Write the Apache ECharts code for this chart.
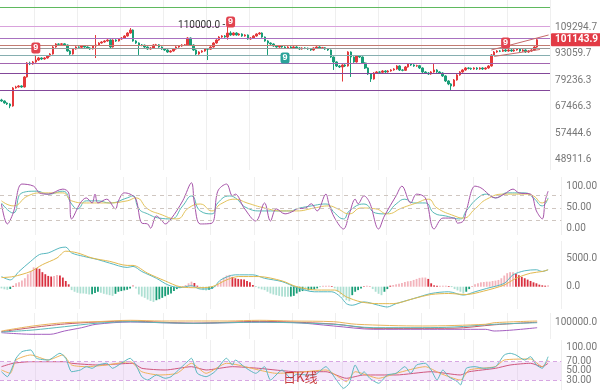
<!DOCTYPE html>
<html><head><meta charset="utf-8">
<script src="https://cdn.jsdelivr.net/npm/echarts@6/dist/echarts.min.js"></script>
<style>html,body{margin:0;padding:0;background:#fff}#c{width:600px;height:391px}</style>
</head><body><div id="c"></div>
<script>
// ---- data: daily candles [open, close, low, high]
const candles = [
[70300,69870,69500,70800],[69870,69030,68700,70100],[69030,68610,68200,69300],[68610,67790,66900,68900],[67790,75590,67500,76000],
[75590,76050,75300,76600],[76050,76510,75800,76900],[76510,76050,75700,76800],[76050,80790,75800,81200],[80790,87920,80500,88400],
[87920,87390,86800,88600],[87390,88460,87000,89000],[88460,89530,88000,92300],[89530,90620,89100,91200],[90620,90070,89500,91000],
[90070,90620,89700,91100],[90620,91720,90300,92200],[91720,92840,91300,93300],[92840,96850,92500,97400],[96850,98620,96400,99100],
[98620,98400,97900,99000],[98400,98700,98000,99200],[98700,98030,97600,99100],[98030,94540,94100,98300],[94540,92840,92300,95000],
[92840,95690,92500,96100],[95690,96850,95300,97300],[96850,96700,96200,97200],[96700,97440,96300,97900],[97440,96850,96400,97800],
[96850,96270,95800,97200],[96270,95690,95200,96700],[95690,97440,95400,97900],[97440,98030,90600,104100],[98030,99220,97700,99700],
[99220,99820,98800,100300],[99820,100430,99400,100900],[100430,101030,100000,101500],[101030,96850,96300,101400],[96850,101030,96500,101500],
[101030,100430,99900,101500],[100430,101650,100100,102100],[101650,102260,101200,102800],[102260,103510,101900,104000],[103510,105400,103100,105900],
[105400,107330,105000,108600],[107330,100430,100000,107700],[100430,99220,98700,100900],[99220,98030,92300,99600],[98030,97900,97300,98600],
[97900,96850,96300,98300],[96850,95690,95200,97200],[95690,96270,95300,96800],[96270,98030,95900,98500],[98030,98100,97500,98700],
[98100,96850,96400,98500],[96850,95690,95200,97200],[95690,95110,94600,96100],[95110,93970,93500,95500],[93970,94540,93600,95000],
[94540,95690,94200,96100],[95690,96850,95300,97300],[96850,97440,96400,97900],[97440,98030,97000,98500],[98030,98100,97500,98600],
[98100,102260,97800,102800],[102260,98030,97600,102600],[98030,95110,94600,98400],[95110,92840,92300,95500],[92840,93970,92400,94400],
[93970,94540,93500,95000],[94540,95690,94100,96100],[95690,95600,89500,96100],[95600,96850,95200,97300],[96850,99220,96500,99700],
[99220,101030,98800,101500],[101030,102880,100600,103400],[102880,103510,102400,104000],[103510,102880,102400,104100],[102880,105400,101200,110000],
[105400,104140,103600,106500],[104140,105400,103700,105900],[105400,104140,103700,105900],[104140,104770,103700,105300],[104770,103510,103000,105200],
[103510,104140,103100,104600],[104140,101650,101200,104500],[101650,102260,101200,102800],[102260,103510,101900,104000],[103510,104770,103100,105200],
[104770,105400,104300,106000],[105400,102880,102400,105800],[102880,100430,100000,103200],[100430,99220,92300,100900],[99220,98620,98100,99600],
[98620,97440,97000,99000],[97440,96850,96400,97900],[96850,97440,96400,97900],[97440,96850,96400,97900],[96850,96270,95800,97300],
[96270,96850,95800,97300],[96850,96270,95800,97300],[96270,96850,95800,97300],[96850,96270,95800,97300],[96270,95690,95200,96700],
[95690,96270,95300,96700],[96270,96100,95600,96700],[96100,95690,95200,96500],[95690,95110,94600,96100],[95110,96270,94700,96700],
[96270,96850,95900,97300],[96850,96270,95800,97300],[96270,96400,95800,96900],[96400,95690,95200,96800],[95690,95110,94600,96100],
[95110,91170,90700,95400],[91170,88460,84300,91500],[88460,86340,85800,88800],[86340,85820,85300,86800],[85820,86870,78600,87300],
[86870,86340,85800,87300],[86340,93970,86000,94400],[93970,91170,80800,94300],[91170,88460,88000,91500],[88460,91720,88100,92200],
[91720,91170,90600,92100],[91170,87920,87400,91500],[87920,85300,84800,88300],[85300,82270,81800,85600],[82270,79820,78400,82600],
[79820,82760,79500,83200],[82760,83270,82300,83700],[83270,83100,82600,83700],[83100,83770,82700,84200],[83770,83270,82800,84200],
[83270,83770,82900,84200],[83770,84280,83400,84700],[84280,84790,83900,85200],[84790,86340,84400,86800],[86340,84280,83800,86700],
[84280,84100,83600,84700],[84100,85820,83800,86300],[85820,87390,85500,87800],[87390,86870,86400,87800],[86870,86340,85900,87300],
[86340,86500,85900,87000],[86500,85300,84800,86900],[85300,83270,82800,85600],[83270,82760,82300,83700],[82760,82270,81800,83200],
[82270,83270,81900,83700],[83270,84280,82900,87900],[84280,83270,82800,84700],[83270,82760,82300,83700],[82760,81280,80800,83100],
[81280,78860,78400,81600],[78860,77440,76900,79200],[77440,76510,74700,77800],[76510,79340,76200,79800],[79340,81770,79000,82200],
[81770,83270,81400,83700],[83270,84280,82900,84700],[84280,85300,83900,85700],[85300,85100,84600,85700],[85100,84790,84300,85500],
[84790,85300,84400,85700],[85300,84790,84300,85700],[84790,85300,84400,85700],[85300,84790,84300,85700],[84790,85300,84400,85700],
[85300,86340,84900,86800],[86340,92280,86000,92800],[92280,93970,91900,94500],[93970,94540,93500,95000],[94540,94400,93900,95000],
[94400,95110,94000,95600],[95110,94540,94000,95600],[94540,95110,94100,95600],[95110,94540,94000,95600],[94540,95110,94100,95600],
[95110,95690,94700,96100],[95690,94540,94000,96100],[94540,95110,94100,95600],[95110,93970,93500,95500],[93970,94540,93500,95000],
[94540,95110,94100,95600],[95110,96850,94700,97300],[96850,101143.9,96400,101600]
];
const slotCount = 192;
const priceLabels = ['48911.6','57444.6','67466.3','79236.3','93059.7','109294.7'];
const levelPrices = [123300,109500,102100,97600,96100,91900,87700,82600,74400];
const lastPrice = 101143.9;
const peakIndex = 79, peakPrice = 110000;
const tdUp = [[12,96270],[80,112650],[176,99220]];
const tdDown = [[99,90620]];
const channelUpper = [[171,95110],[191,104140]];
const channelLower = [[172,91500],[188,95400]];

const kdjJ = [[0,59.5],[2,12],[4,38],[7,107],[11,102],[13,86],[16,83],[21,95],[23,86],[24,24],[27,62],[29,74],[31,62],[32,83],[33,62],[36,71],[39,48],[40,67],[42,86],[44,83],[46,71],[48,14],[50,12],[51,2],[53,31],[55,19],[56,12],[58,24],[62,67],[65,110],[66,62],[68,12],[72,14],[74,90],[77,107],[79,79],[80,83],[83,50],[87,19],[90,62],[92,19],[94,48],[97,36],[100,43],[101,48],[104,50],[106,60],[108,43],[111,83],[112,60],[114,26],[117,0],[119,36],[121,71],[122,60],[124,79],[126,62],[129,0],[131,31],[135,79],[137,102],[140,62],[142,83],[145,74],[148,0],[151,26],[155,26],[156,14],[158,19],[159,43],[162,102],[164,98],[169,74],[172,83],[175,95],[177,86],[181,83],[183,43],[185,24],[186,67],[187,90]];
const kdjK = [[0,62],[4,38],[7,86],[12,90],[16,83],[21,90],[24,59.5],[26,48],[29,67],[33,67],[37,62],[43,74],[45,79],[47,48],[50,36],[54,26],[58,24],[62,55],[65,78.6],[68,43],[72,36],[74,62],[78,78.6],[80,74],[84,50],[89,43],[94,43],[99,43],[101,48],[106,55],[111,59.5],[114,38],[117,24],[119,43],[124,59.5],[128,38],[131,36],[135,59.5],[138,71],[141,62],[145,62],[148,38],[152,31],[157,24],[159,43],[163,74],[166,83],[169,74],[173,86],[179,86],[182,74],[185,55],[187,74]];
const kdjD = [[0,67],[4,55],[9,78.6],[14,86],[21,86],[24,67],[29,62],[36,62],[43,67],[46,74],[50,48],[54,36],[60,24],[64,50],[68,59.5],[72,43],[75,59.5],[80,71],[84,62],[90,50],[96,43],[101,43],[107,50],[112,55],[115,48],[119,36],[123,50],[128,48],[132,36],[137,50],[142,62],[146,71],[149,50],[155,31],[158,26],[162,48],[166,71],[172,83],[179,83],[182,78.6],[185,62],[187,71]];
const kdjLevels = [20,50,80];

const macdHist = [-300,-450,-550,-400,150,595,770,1070,1490,2200,2800,3400,3280,3150,2560,2200,1900,1790,1900,2080,1960,1610,1010,420,-600,-890,-1070,-1190,-1190,-1250,-1370,-1310,-1130,-890,-1070,-1250,-1370,-1490,-1610,-1250,-890,-770,-650,-540,-300,300,-300,-1370,-1730,-1960,-2260,-2500,-2680,-2380,-2200,-1960,-1670,-1430,-1190,-770,-420,-180,60,300,600,890,650,180,-300,-600,-650,-540,-420,-60,540,1070,1610,1960,2080,1730,1490,1370,1310,1250,1010,770,300,-60,-300,-480,-600,-890,-1190,-1370,-1490,-1610,-1730,-1790,-1790,-1730,-1610,-1190,-890,-770,-770,-650,-600,-480,-300,-60,180,180,180,120,-300,-890,-1370,-1900,-2380,-2560,-1490,-890,-600,-300,60,180,60,-420,-890,-1250,-1490,-890,-420,180,300,420,540,650,830,950,1010,1190,1370,1550,1610,1610,1370,600,240,180,180,180,180,120,-60,-420,-650,-890,-1190,-890,-420,60,420,600,770,830,890,890,1010,1070,1190,1490,1960,2380,2560,2560,2260,2020,1730,1490,1250,1010,770,600,360,240,180,240];
const macdDif = [[0,1786],[3,1197],[6,2679],[10,4465],[13,5662],[16,5947],[20,6840],[22,6965],[24,5947],[28,5358],[33,4769],[37,4161],[43,3393],[45,3572],[48,2679],[53,1482],[57,304],[61,-179],[65,179],[68,-411],[72,-304],[75,1197],[80,2090],[86,2090],[90,1482],[96,893],[101,-150],[107,-893],[113,-893],[116,-1786],[118,-2983],[120,-3268],[124,-2679],[129,-3268],[132,-3572],[135,-2983],[141,-2090],[147,-1197],[153,-893],[158,-1482],[162,-893],[166,-304],[172,589],[175,2090],[179,2804],[183,2983],[185,2679],[187,2983]];
const macdDea = [[0,1607],[4,1786],[10,2679],[14,3876],[19,5054],[22,6251],[26,5947],[31,5054],[37,4465],[43,3751],[45,3751],[50,2375],[56,1018],[61,0],[67,-179],[72,0],[77,1197],[81,1786],[88,1786],[96,1018],[101,0],[108,-589],[114,-589],[118,-1786],[123,-2679],[129,-2983],[134,-2983],[141,-2090],[147,-1375],[153,-1197],[159,-1375],[165,-768],[172,304],[176,1482],[181,2375],[185,2679],[187,2983]];

const maOrange = [[0,77500],[11,90000],[22,98250],[33,100750],[45,104250],[56,102500],[67,102500],[79,102500],[90,104250],[101,102500],[116,100750],[124,94250],[147,90000],[169,94250],[172,98250],[187,102500]];
const maTeal = [[0,75000],[11,80000],[22,88250],[33,96750],[45,100750],[56,98250],[67,96750],[79,98250],[90,99500],[101,98250],[116,94250],[130,85750],[147,85750],[158,87500],[172,94250],[187,98250]];
const maPurple = [[0,73250],[11,69250],[17,69250],[22,77500],[28,85750],[33,94250],[45,100000],[56,98250],[67,96750],[79,98250],[90,99500],[101,99000],[116,90000],[130,81750],[147,81750],[169,81750],[172,77500],[187,85750]];
const maRed = [[0,76000],[22,95000],[45,102000],[67,97000],[90,101500],[116,95000],[130,84000],[158,84500],[172,93000],[187,99500]];

const rsi6 = [[0,48.4],[2,37.7],[5,77.2],[7,91.3],[10,95],[12,77.2],[16,73.5],[20,87.9],[22,77.2],[24,48.4],[27,52.1],[29,59.2],[31,55.7],[33,62.8],[36,66.5],[38,55.7],[41,66.5],[44,77.2],[46,62.8],[48,37.7],[50,30.6],[53,41.4],[56,34.3],[58,37.7],[63,66.5],[65,77.2],[67,45],[70,37.7],[73,48.4],[77,77.2],[79,62.8],[80,73.5],[83,59.2],[87,45],[90,59.2],[92,30.6],[96,52.1],[99,34.3],[101,43],[105,41.4],[107,41.4],[111,59.2],[113,45],[115,27],[117,12.8],[119,23.6],[121,62.8],[123,41.4],[124,48.4],[126,34.3],[129,23.6],[132,41.4],[135,45],[138,59.2],[140,45],[142,62.8],[145,66.5],[147,52.1],[149,30.6],[151,52.1],[153,37.7],[156,27],[157,19.9],[159,55.7],[162,59.2],[165,55.7],[169,59.2],[172,84.3],[174,87.9],[176,84.3],[179,73.5],[181,80.6],[183,62.8],[185,55.7],[187,80.6]];
const rsi12 = [[0,52.1],[3,45],[5,73.5],[10,84.3],[16,73.5],[21,84.3],[24,62.8],[29,59.2],[36,62.8],[44,69.9],[48,48.4],[54,41.4],[60,45],[65,66.5],[70,45],[77,66.5],[81,62.8],[88,52.1],[94,45],[101,46.7],[111,52.1],[116,34.3],[118,27],[121,48.4],[129,34.3],[135,45],[145,59.2],[150,45],[157,30.6],[160,52.1],[169,59.2],[172,73.5],[181,75.7],[185,59.2],[187,73.5]];
const rsi24 = [[0,59.2],[4,66.5],[10,69.9],[16,69.9],[22,69.9],[24,66.5],[33,62.8],[45,66.5],[48,55.7],[56,52.1],[65,59.2],[70,52.1],[79,59.2],[88,55.7],[101,48.4],[111,48.4],[118,34.3],[124,41.4],[135,41.4],[147,48.4],[157,41.4],[160,48.4],[169,55.7],[174,62.8],[181,66.5],[185,59.2],[187,66.5]];
const rsiBand = [30,70];
const rsiTicksA = [30,70,100];
const rsiTicksB = [50];

// ---- styles
const UP = '#e4393c', DOWN = '#1a9e78';
const levelColors = ['#5fb95e','#d9a2dc','#a871c0','#c27b72','#9a9a9a','#86aeb0','#a265b0','#83479a','#83479a'];
const labelStyle = {color:'#777', fontSize:10, fontFamily:'Roboto, sans-serif', margin:5, hideOverlap:false, showMinLabel:true, showMaxLabel:true};

const slots = Array.from({length: slotCount}, (_, k) => String(k));
const lgA = Math.log(parseFloat(priceLabels[0]));
const lgStep = (Math.log(parseFloat(priceLabels[5])) - lgA) / 5;
const mainMin = 46033, mainMax = 128680;

const grids = [
  {left:0, right:35, top:0, height:170},
  {left:0, right:35, top:177, height:58},
  {left:0, right:35, top:241, height:68},
  {left:0, right:35, top:313, height:26},
  {left:0, right:35, top:340, height:50}
];
const xAxes = grids.map((g, k) => ({
  type:'category', gridIndex:k, data:slots, boundaryGap:true,
  axisLine:{show:false}, axisTick:{show:false}, axisLabel:{show:false},
  splitLine:{show:true, interval:(idx) => (idx - 12) % 15 === 0, lineStyle:{color:'#efefef', width:1}}
}));
const hideAxis = {axisLine:{show:false}, axisTick:{show:false}, splitLine:{show:false}};
const yAxes = [
  Object.assign({type:'log', gridIndex:0, min:mainMin, max:mainMax, position:'right', axisLabel:{show:false}}, hideAxis),
  Object.assign({type:'value', gridIndex:0, position:'right',
    min:(Math.log(mainMin) - lgA) / lgStep, max:(Math.log(mainMax) - lgA) / lgStep,
    axisLabel:Object.assign({customValues:[0,1,2,3,4,5], formatter:(v) => priceLabels[Math.round(v)]}, labelStyle)}, hideAxis),
  Object.assign({type:'value', gridIndex:1, position:'right', min:-14.3, max:123.8,
    axisLabel:Object.assign({customValues:[0,50,100], formatter:(v) => v.toFixed(2)}, labelStyle)}, hideAxis),
  Object.assign({type:'value', gridIndex:2, position:'right', min:-3926, max:8046,
    axisLabel:Object.assign({customValues:[0,5000], formatter:(v) => v.toFixed(1)}, labelStyle)}, hideAxis),
  Object.assign({type:'value', gridIndex:3, position:'right', min:57500, max:122500,
    axisLabel:Object.assign({customValues:[100000], formatter:(v) => v.toFixed(1)}, labelStyle)}, hideAxis),
  Object.assign({type:'value', gridIndex:4, position:'right', min:9.2, max:116.4,
    axisLabel:Object.assign({customValues:rsiTicksA, formatter:(v) => v.toFixed(2)}, labelStyle)}, hideAxis),
  Object.assign({type:'value', gridIndex:4, position:'right', offset:0, min:9.2, max:116.4,
    axisLabel:Object.assign({customValues:rsiTicksB, formatter:(v) => v.toFixed(2)}, labelStyle)}, hideAxis)
];

function lineS(data, xi, yi, color, smooth, extra) {
  return Object.assign({type:'line', xAxisIndex:xi, yAxisIndex:yi, data:data, symbol:'none',
    smooth:smooth, lineStyle:{color:color, width:1}, itemStyle:{color:color}, silent:true, z:3}, extra || {});
}

const mainMarkLines = levelPrices.map((p, k) => ({yAxis:p, lineStyle:{color:levelColors[k], width:1, type:'solid'}, label:{show:false}}));
mainMarkLines.push([{coord:channelUpper[0], lineStyle:{color:'#c76a6a', width:1, type:'solid'}, label:{show:false}}, {coord:channelUpper[1]}]);
mainMarkLines.push([{coord:channelLower[0], lineStyle:{color:'#c76a6a', width:1, type:'solid'}, label:{show:false}}, {coord:channelLower[1]}]);
mainMarkLines.push({yAxis:lastPrice, lineStyle:{color:'rgba(0,0,0,0)', width:0},
  label:{show:true, position:'end', distance:1, formatter:lastPrice.toFixed(1), color:'#fff', backgroundColor:'#e23a45',
    fontSize:10, fontWeight:'bold', fontFamily:'Roboto, sans-serif', padding:[2,4,1,4], borderRadius:1}});

const tdPoint = (m, color) => ({coord:m, symbol:'roundRect', symbolSize:[9,11], itemStyle:{color:color},
  label:{show:true, position:'inside', formatter:'9', color:'#fff', fontSize:9, fontWeight:'bold'}});
const markPts = tdUp.map((m) => tdPoint(m, '#e2434f')).concat(tdDown.map((m) => tdPoint(m, '#2aa39a')));
markPts.push({coord:[peakIndex, peakPrice], symbol:'circle', symbolSize:1, itemStyle:{color:'rgba(0,0,0,0)'},
  label:{show:true, position:'left', distance:2, formatter:'110000.0 -', color:'#333', fontSize:10, fontFamily:'Roboto, sans-serif'}});

const series = [
  {type:'candlestick', xAxisIndex:0, yAxisIndex:0, data:candles, barWidth:'70%', silent:true,
   itemStyle:{color:UP, color0:DOWN, borderColor:UP, borderColor0:DOWN, borderWidth:1},
   markLine:{silent:true, symbol:['none','none'], animation:false, data:mainMarkLines},
   markPoint:{silent:true, animation:false, data:markPts}},
  lineS(kdjK, 1, 2, '#56b9b6', true),
  lineS(kdjD, 1, 2, '#e3c35a', true),
  lineS(kdjJ, 1, 2, '#a653a9', 0.35, {markLine:{silent:true, symbol:['none','none'], animation:false,
    lineStyle:{color:'#cfc6c0', type:[4,4], width:1}, label:{show:false}, data:kdjLevels.map((v) => ({yAxis:v}))}}),
  {type:'bar', xAxisIndex:2, yAxisIndex:3, data:macdHist, barWidth:'62%', silent:true,
   itemStyle:{color:(p) => {
     const v = macdHist[p.dataIndex], prev = p.dataIndex > 0 ? macdHist[p.dataIndex - 1] : 0;
     const growing = Math.abs(v) >= Math.abs(prev);
     if (v >= 0) return growing ? '#f3b4bc' : '#d9303f';
     return growing ? '#aee0d3' : '#1a9e78';
   }}},
  lineS(macdDif, 2, 3, '#58b8c0', 0.3),
  lineS(macdDea, 2, 3, '#e2b84e', 0.3),
  lineS(maPurple, 3, 4, '#a45fc0', 0.3),
  lineS(maRed, 3, 4, '#c45a6a', 0.3),
  lineS(maTeal, 3, 4, '#5cb9b9', 0.3),
  lineS(maOrange, 3, 4, '#e9b35c', 0.3),
  lineS(rsi24, 4, 5, '#d0577e', 0.2, {markArea:{silent:true, itemStyle:{color:'rgba(214,170,236,0.28)'},
      data:[[{yAxis:rsiBand[0]}, {yAxis:rsiBand[1]}]]},
    markLine:{silent:true, symbol:['none','none'], animation:false, lineStyle:{color:'#d7a6e2', type:[4,3], width:1},
      label:{show:false}, data:rsiBand.map((v) => ({yAxis:v}))}}),
  lineS(rsi12, 4, 5, '#efb35a', 0.2),
  lineS(rsi6, 4, 5, '#5ab8bf', 0.2)
];

const chart = echarts.init(document.getElementById('c'), null, {renderer:'canvas'});
chart.setOption({
  animation:false, backgroundColor:'#fff',
  grid:grids, xAxis:xAxes, yAxis:yAxes, series:series,
  graphic:[{type:'text', left:283, top:371, style:{text:'日K线', fill:'rgba(190,30,30,0.85)', fontSize:13, fontFamily:'"Noto Sans CJK SC", sans-serif'}, z:100}]
});
</script></body></html>
